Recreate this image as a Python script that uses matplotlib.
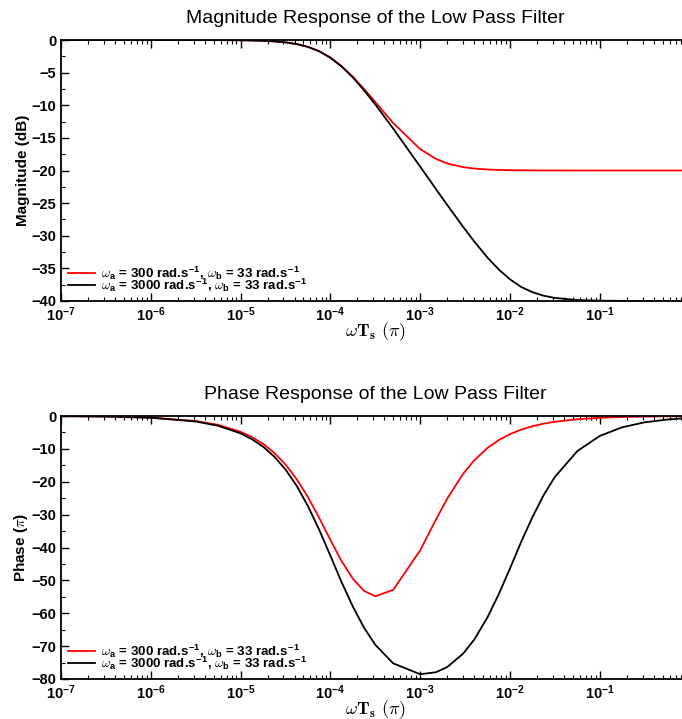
import matplotlib
matplotlib.use('Agg')
import matplotlib.pyplot as plt
from matplotlib.ticker import (LogLocator, FixedLocator, MultipleLocator,
                               NullFormatter, LogFormatterMathtext)

plt.rcParams['font.family'] = ['Liberation Sans', 'DejaVu Sans']
plt.rcParams['font.weight'] = 'bold'
plt.rcParams['axes.labelweight'] = 'bold'
plt.rcParams['mathtext.fontset'] = 'cm'

# omega*Ts (pi) sample points
freq = [1e-7, 3.16e-7, 1e-6, 3.16e-6, 5.62e-6, 1e-5, 1.33e-5, 1.78e-5, 2.37e-5,
        3.16e-5, 4.22e-5, 5.62e-5, 7.5e-5, 1e-4, 1.33e-4, 1.78e-4, 2.37e-4, 3.16e-4,
        5e-4, 1e-3, 1.5e-3, 2e-3, 3e-3, 4e-3, 5.62e-3, 7.5e-3, 1e-2, 1.33e-2,
        1.78e-2, 2.37e-2, 3.16e-2, 5.62e-2, 0.1, 0.178, 0.316, 0.562, 0.82]

# magnitude (dB)
mag_300 = [0, 0, 0, 0, -0.01, -0.04, -0.07, -0.12, -0.21, -0.36, -0.62, -1.04,
           -1.71, -2.68, -4.00, -5.63, -7.50, -9.51, -12.72, -16.73, -18.23,
           -18.92, -19.48, -19.70, -19.85, -19.91, -19.95, -19.97, -19.98, -19.99,
           -19.99, -20.0, -20.0, -20.0, -20.0, -20.0, -20.0]
mag_3000 = [0, 0, 0, 0, -0.01, -0.04, -0.07, -0.12, -0.21, -0.36, -0.63, -1.06,
            -1.73, -2.72, -4.06, -5.74, -7.71, -9.87, -13.57, -19.41, -22.86,
            -25.28, -28.62, -30.88, -33.35, -35.17, -36.68, -37.84, -38.65, -39.19,
            -39.53, -39.85, -39.95, -39.98, -40.0, -40.0, -40.0]

# phase
ph_300 = [-0.05, -0.15, -0.48, -1.52, -2.70, -4.80, -6.38, -8.47, -11.21, -14.75,
          -19.24, -24.69, -30.99, -37.70, -44.12, -49.51, -53.20, -54.84, -52.89,
          -40.85, -31.45, -25.11, -17.60, -13.47, -9.70, -7.31, -5.51, -4.13,
          -3.10, -2.33, -1.75, -0.98, -0.55, -0.31, -0.18, -0.10, -0.07]
ph_3000 = [-0.05, -0.17, -0.53, -1.67, -2.97, -5.28, -7.03, -9.33, -12.35, -16.27,
           -21.26, -27.39, -34.59, -42.50, -50.51, -57.98, -64.41, -69.59, -75.24,
           -78.55, -77.94, -76.36, -72.31, -68.0, -61.22, -54.19, -46.36, -38.32,
           -30.73, -24.06, -18.53, -10.68, -6.06, -3.42, -1.92, -1.08, -0.74]

decades = [1e-7, 1e-6, 1e-5, 1e-4, 1e-3, 1e-2, 1e-1]

lab_300 = (r'$\omega_{\mathregular{a}}$ = 300 rad.s$^{\mathregular{-1}}$, '
           r'$\omega_{\mathregular{b}}$ = 33 rad.s$^{\mathregular{-1}}$')
lab_3000 = (r'$\omega_{\mathregular{a}}$ = 3000 rad.s$^{\mathregular{-1}}$, '
            r'$\omega_{\mathregular{b}}$ = 33 rad.s$^{\mathregular{-1}}$')
xlab = r'$\omega \mathbf{T_s}\ (\pi)$'

fig = plt.figure(figsize=(6.82, 7.19), dpi=100)
left, width = 61 / 682, 628.6 / 682
ax1 = fig.add_axes([left, 1 - 301 / 719, width, 261 / 719])
ax2 = fig.add_axes([left, 1 - 679 / 719, width, 263 / 719])


def style(ax, ymin, ymax, major, minor):
    ax.set_xscale('log')
    ax.set_xlim(1e-7, 1)
    ax.set_ylim(ymin, ymax)
    ax.xaxis.set_major_locator(FixedLocator(decades))
    ax.xaxis.set_major_formatter(LogFormatterMathtext())
    ax.xaxis.set_minor_locator(LogLocator(base=10, subs=range(2, 10), numticks=50))
    ax.xaxis.set_minor_formatter(NullFormatter())
    ax.yaxis.set_major_locator(MultipleLocator(major))
    ax.yaxis.set_minor_locator(MultipleLocator(minor))
    ax.tick_params(which='both', direction='in', top=True, right=True, labelsize=10.5)
    ax.tick_params(which='major', length=6, width=1)
    ax.tick_params(which='minor', length=3, width=0.8)
    for s in ax.spines.values():
        s.set_linewidth(1.3)
    ax.set_xlabel(xlab, fontsize=13, labelpad=-3)
    ax.yaxis.set_label_coords(-31 / 628.6, 0.5)


def add_legend(ax):
    ax.legend(loc='lower left', frameon=False, fontsize=9.5, handlelength=2.0,
              labelspacing=-0.45, borderaxespad=0.15, handletextpad=0.45)


ax1.plot(freq, mag_300, color='red', lw=1.3, label=lab_300)
ax1.plot(freq, mag_3000, color='black', lw=1.3, label=lab_3000)
style(ax1, -40, 0, 5, 2.5)
ax1.set_ylabel('Magnitude (dB)', fontsize=11)
ax1.set_title('Magnitude Response of the Low Pass Filter', fontsize=14,
              fontweight='normal', pad=12)
add_legend(ax1)

ax2.plot(freq, ph_300, color='red', lw=1.3, label=lab_300)
ax2.plot(freq, ph_3000, color='black', lw=1.3, label=lab_3000)
style(ax2, -80, 0, 10, 5)
ax2.set_ylabel(r'Phase ($\pi$)', fontsize=11)
ax2.set_title('Phase Response of the Low Pass Filter', fontsize=14,
              fontweight='normal', pad=12)
add_legend(ax2)

fig.savefig('out.png', dpi=100)
